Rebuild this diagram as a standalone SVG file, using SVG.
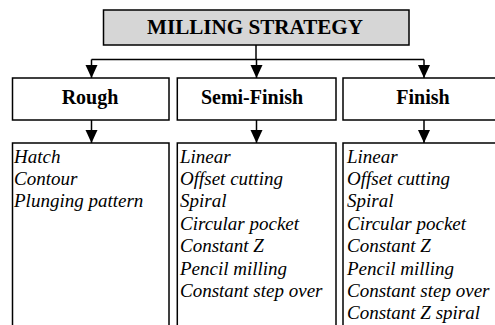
<svg xmlns="http://www.w3.org/2000/svg" width="495" height="325" viewBox="0 0 495 325">
  <style>
    .box { fill: #ffffff; stroke: #000000; stroke-width: 1.5; }
    .title { fill: #d6d6d6; stroke: #000000; stroke-width: 1.5; }
    .conn { fill: none; stroke: #000000; stroke-width: 1.5; }
    .hd { font-family: "Liberation Serif", "Times New Roman", serif; font-weight: bold; font-size: 20px; fill: #000; text-anchor: middle; }
    .it { font-family: "Liberation Serif", "Times New Roman", serif; font-style: italic; font-size: 19px; fill: #000; }
  </style>
  <defs>
    <marker id="arr" markerUnits="userSpaceOnUse" markerWidth="14" markerHeight="13" refX="13" refY="6" orient="auto">
      <path d="M0,0 L13,6 L0,12 z" fill="#000"/>
    </marker>
  </defs>
  <rect width="495" height="325" fill="#ffffff"/>

  <g id="connectors">
    <path class="conn" d="M256,45 V59.5"/>
    <path class="conn" d="M91.5,59.5 H424"/>
    <path class="conn" d="M91.5,59.5 V78" marker-end="url(#arr)"/>
    <path class="conn" d="M256.5,59.5 V78" marker-end="url(#arr)"/>
    <path class="conn" d="M424,59.5 V78" marker-end="url(#arr)"/>
    <path class="conn" d="M91.5,120 V143" marker-end="url(#arr)"/>
    <path class="conn" d="M256.5,120 V143" marker-end="url(#arr)"/>
    <path class="conn" d="M424,120 V143" marker-end="url(#arr)"/>
  </g>

  <g id="milling-strategy">
    <rect class="title" x="103.5" y="10" width="305.5" height="35"/>
    <text class="hd" x="255" y="34" font-size="21" textLength="216" lengthAdjust="spacingAndGlyphs">MILLING STRATEGY</text>
  </g>

  <g id="rough">
    <rect class="box" x="12.5" y="78" width="156.5" height="42"/>
    <text class="hd" x="90" y="104">Rough</text>
  </g>
  <g id="semi-finish">
    <rect class="box" x="177.3" y="78" width="158.7" height="42"/>
    <text class="hd" x="252" y="104">Semi-Finish</text>
  </g>
  <g id="finish">
    <rect class="box" x="343" y="78" width="165" height="42"/>
    <text class="hd" x="423" y="104">Finish</text>
  </g>

  <g id="rough-list">
    <rect class="box" x="12.5" y="143" width="156.5" height="200"/>
    <text class="it" x="14" y="162.5">Hatch</text>
    <text class="it" x="14" y="184.9">Contour</text>
    <text class="it" x="14" y="207.3">Plunging pattern</text>
  </g>

  <g id="semi-finish-list">
    <rect class="box" x="177.3" y="143" width="158.7" height="200"/>
    <text class="it" x="180" y="162.5">Linear</text>
    <text class="it" x="180" y="184.9">Offset cutting</text>
    <text class="it" x="180" y="207.3">Spiral</text>
    <text class="it" x="180" y="229.7">Circular pocket</text>
    <text class="it" x="180" y="252.1">Constant Z</text>
    <text class="it" x="180" y="274.5">Pencil milling</text>
    <text class="it" x="180" y="296.9">Constant step over</text>
  </g>

  <g id="finish-list">
    <rect class="box" x="343" y="143" width="165" height="200"/>
    <text class="it" x="347" y="162.5">Linear</text>
    <text class="it" x="347" y="184.9">Offset cutting</text>
    <text class="it" x="347" y="207.3">Spiral</text>
    <text class="it" x="347" y="229.7">Circular pocket</text>
    <text class="it" x="347" y="252.1">Constant Z</text>
    <text class="it" x="347" y="274.5">Pencil milling</text>
    <text class="it" x="347" y="296.9">Constant step over</text>
    <text class="it" x="347" y="319.3">Constant Z spiral</text>
  </g>
</svg>
